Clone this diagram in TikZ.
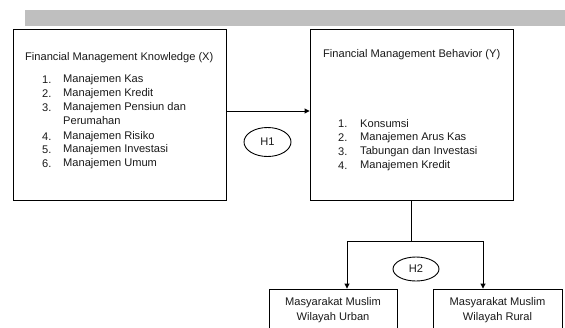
\documentclass[tikz,border=0pt]{standalone}
\usepackage{fontspec}
\setmainfont{Liberation Sans}
\usetikzlibrary{arrows.meta,shapes.geometric}
\tikzset{
  box/.style={draw=black, line width=0.9pt, rectangle, inner sep=0pt},
  txt/.style={anchor=west, inner sep=0pt, font=\fontsize{11.1}{13}\selectfont, text=black!90},
  ctxt/.style={anchor=center, inner sep=0pt, font=\fontsize{11.1}{13}\selectfont, text=black!90},
  hyp/.style={draw=black, line width=0.9pt, ellipse, inner sep=0pt},
  conn/.style={draw=black, line width=0.9pt},
  arr/.style={conn, -{Triangle[length=5pt,width=5pt]}}
}
\begin{document}
\begin{tikzpicture}[x=1pt,y=-1pt]
\useasboundingbox (0,0) rectangle (565,327);
\clip (0,0) rectangle (565,327);
% gray bar
\fill[black!25] (25,10) rectangle (565,26);
% boxes
\node[box, minimum width=213pt, minimum height=171pt] (kn) at (119.5,114.5) {};
\node[box, minimum width=203pt, minimum height=171pt] (bh) at (411.5,114.5) {};
\node[box, minimum width=128pt, minimum height=46pt] (ur) at (333,312) {};
\node[box, minimum width=129pt, minimum height=46pt] (ru) at (497.5,312) {};
% left text
\node[txt] (kt) at (25,58) {Financial Management Knowledge (X)};
\foreach \n/\t/\y in {1/Manajemen Kas/80, 2/Manajemen Kredit/94, 3/Manajemen Pensiun dan/108, 4/Manajemen Risiko/137, 5/Manajemen Investasi/150, 6/Manajemen Umum/164}{
  \node[txt] (kn\n) at (42,\y) {\n.};
  \node[txt] (kl\n) at (63,\y) {\t};
}
\node[txt] (kl3b) at (63,121) {Perumahan};
% right text
\node[txt] (bt) at (323,55) {Financial Management Behavior (Y)};
\foreach \n/\t/\y in {1/Konsumsi/124, 2/Manajemen Arus Kas/138, 3/Tabungan dan Investasi/152, 4/Manajemen Kredit/166}{
  \node[txt] (bn\n) at (338,\y) {\n.};
  \node[txt] (bl\n) at (360,\y) {\t};
}
% bottom box texts
\node[ctxt] (urt1) at (333,303) {Masyarakat Muslim};
\node[ctxt] (urt2) at (333,318) {Wilayah Urban};
\node[ctxt] (rut1) at (497.5,303) {Masyarakat Muslim};
\node[ctxt] (rut2) at (497.5,318) {Wilayah Rural};
% hypotheses
\node[hyp, minimum width=47pt, minimum height=29pt] (h1) at (267.5,142) {};
\node[ctxt] (h1t) at (h1) {H1};
\node[hyp, minimum width=46pt, minimum height=24pt] (h2) at (416,269) {};
\node[ctxt] (h2t) at (h2) {H2};
% connectors
\draw[arr] ([yshift=3.5pt]kn.east) -- ([yshift=3.5pt]bh.west);
\coordinate (jl) at (347,241);
\coordinate (jr) at (483,241);
\draw[conn] (bh.south) -- (bh.south |- jl);
\draw[conn] (jl) -- (jr);
\draw[arr] (jl) -- (jl |- ur.north);
\draw[arr] (jr) -- (jr |- ru.north);
\end{tikzpicture}
\end{document}
